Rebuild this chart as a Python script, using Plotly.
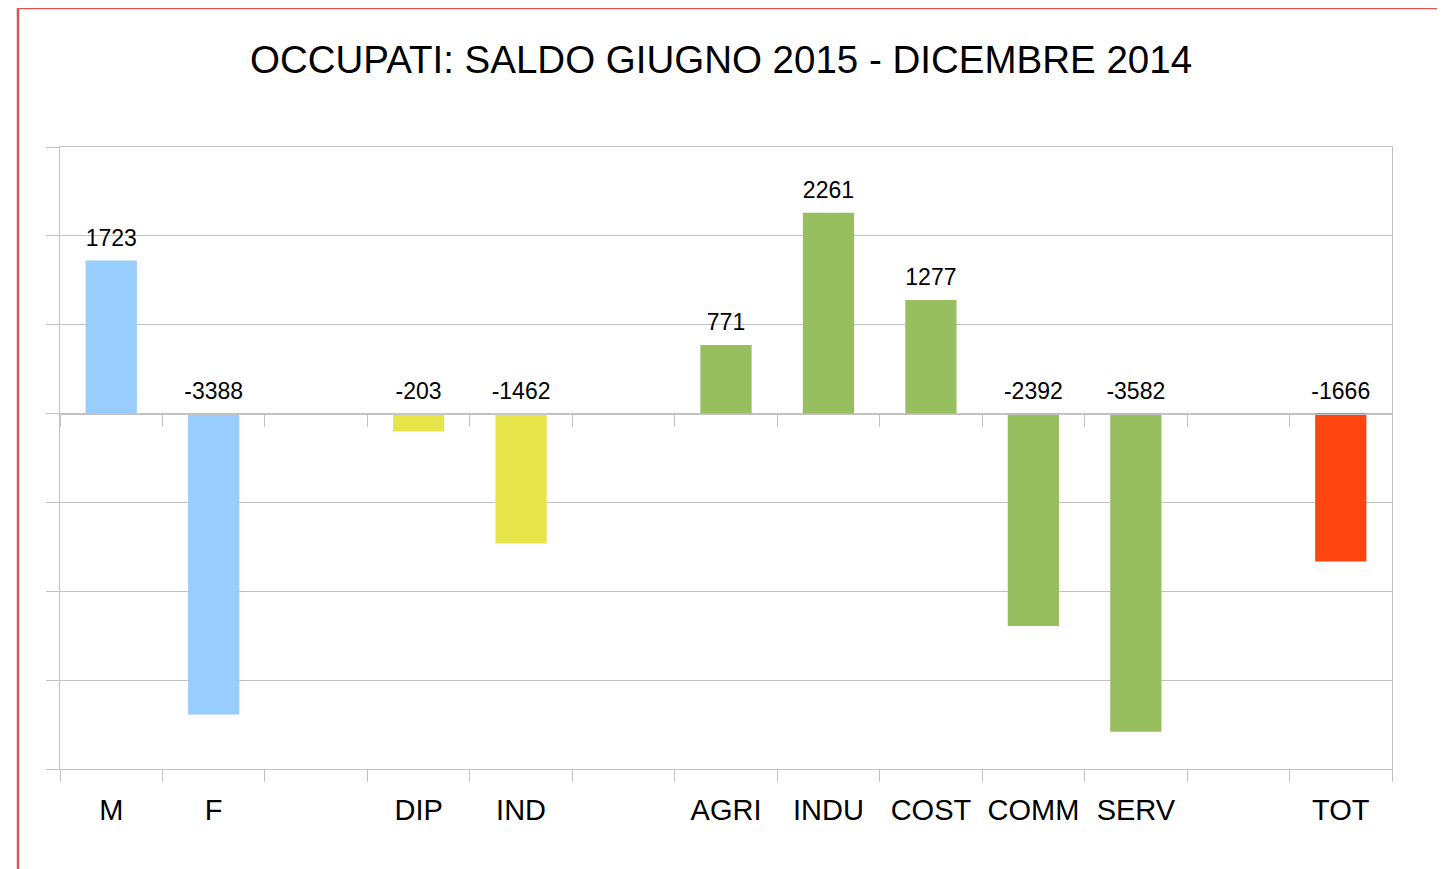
import plotly.graph_objects as go

categories = ["M", "F", " ", "DIP", "IND", "  ", "AGRI", "INDU", "COST", "COMM", "SERV", "   ", "TOT"]
values = [1723, -3388, None, -203, -1462, None, 771, 2261, 1277, -2392, -3582, None, -1666]
colors = ["#99ccff", "#99ccff", "#ffffff", "#e6e64c", "#e6e64c", "#ffffff",
          "#97be5f", "#97be5f", "#97be5f", "#97be5f", "#97be5f", "#ffffff", "#ff4512"]
y_min, y_max, y_step = -4000, 3000, 1000
title_text = "OCCUPATI: SALDO GIUGNO 2015 - DICEMBRE 2014"

FONT = "Liberation Sans, Arial, sans-serif"
GRID = "#c3c3c3"

fig = go.Figure()
fig.add_trace(go.Bar(
    x=categories, y=values, marker=dict(color=colors, line=dict(width=0)),
    hoverinfo="x+y", showlegend=False,
))

lab_x = [c for c, v in zip(categories, values) if v is not None]
lab_v = [v for v in values if v is not None]
fig.add_trace(go.Scatter(
    x=lab_x, y=[max(v, 0) for v in lab_v], text=[str(v) for v in lab_v],
    mode="markers+text", textposition="top center",
    marker=dict(size=13, color="rgba(0,0,0,0)"),
    textfont=dict(family=FONT, size=23, color="#000000"),
    xaxis="x2", yaxis="y", showlegend=False, hoverinfo="skip",
))

zero_pos = (0 - y_min) / (y_max - y_min)

fig.update_layout(
    width=1445, height=869,
    paper_bgcolor="white", plot_bgcolor="white",
    margin=dict(l=52, r=61, t=139, b=108),
    bargap=0.5,
    title=dict(text=title_text, x=(721 - 8) / 1445, xref="container", y=1 - (60 - 8) / 869,
               xanchor="center", yanchor="middle",
               font=dict(family=FONT, size=38.5, color="#000000")),
    xaxis=dict(type="category", categoryorder="array", categoryarray=categories,
               range=[-0.5, len(categories) - 0.5],
               showgrid=False, zeroline=False,
               ticks="outside", tickson="boundaries", ticklen=12, tickcolor=GRID, tickwidth=1.3,
               showline=True, linecolor=GRID, linewidth=1.3, mirror=True,
               tickfont=dict(family=FONT, size=29, color="#000000"),
               ticklabelstandoff=15),
    xaxis2=dict(type="category", categoryorder="array", categoryarray=categories,
                range=[-0.5, len(categories) - 0.5],
                overlaying="x", anchor="free", position=zero_pos, side="bottom",
                showgrid=False, zeroline=False, showticklabels=False,
                ticks="outside", tickson="boundaries", ticklen=12, tickcolor=GRID, tickwidth=1.3,
                showline=True, linecolor=GRID, linewidth=1.3),
    yaxis=dict(range=[y_min, y_max], tick0=0, dtick=y_step,
               showgrid=True, gridcolor=GRID, gridwidth=1.3,
               zeroline=False, showticklabels=False,
               ticks="outside", ticklen=13, tickcolor=GRID, tickwidth=1.3,
               showline=True, linecolor=GRID, linewidth=1.3, mirror=True),
    shapes=[dict(type="rect", xref="paper", yref="paper",
                 x0=(18 - 60) / 1332, x1=(1442 - 60) / 1332,
                 y0=(769 - 880) / 622, y1=(769 - 8) / 622,
                 line=dict(color="#dd5555", width=2.5), fillcolor="rgba(0,0,0,0)",
                 layer="above")],
)

fig.write_html("out.html")
